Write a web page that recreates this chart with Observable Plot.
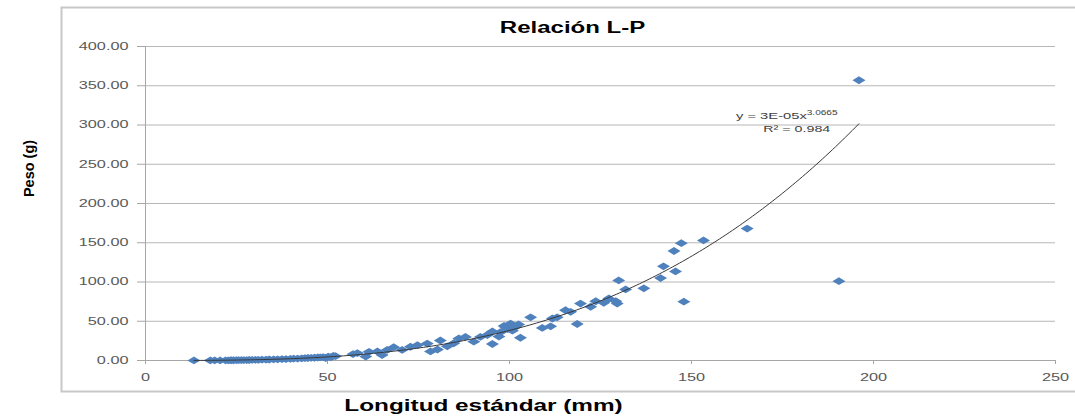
<!DOCTYPE html>
<html>
<head>
<meta charset="utf-8">
<script src="https://cdn.jsdelivr.net/npm/d3@7"></script>
<script src="https://cdn.jsdelivr.net/npm/@observablehq/plot@0.6"></script>
<style>
  body { margin: 0; background: #fff; }
  #chart svg g[aria-label$="tick label"] { fill: #595959; }
  #chart svg g[aria-label$="-axis tick"] { stroke: #a6a6a6; }
</style>
</head>
<body>
<div id="chart"></div>
<script>
// ---- Data ----
const lengths = [
  13.3, 17.8, 19.0, 20.5, 22.0, 22.8, 23.5, 24.2, 25.0, 25.6, 26.3, 27.0, 27.8, 28.5, 29.3,
  30.2, 31.0, 32.0, 33.1, 34.0, 35.2, 36.3, 37.5, 38.6, 39.8, 40.7, 41.8, 42.9, 43.8, 44.6,
  45.5, 46.4, 47.3, 48.0, 48.8, 49.5, 50.2, 50.9, 51.6, 52.2,
  57.0, 58.2, 60.5, 61.4, 63.7, 65.0, 66.4, 68.2, 70.5, 72.8, 74.7, 77.4, 78.3, 80.2, 81.0,
  82.9, 84.7, 86.1, 87.9, 90.2, 92.0, 93.9, 95.3, 95.3, 97.1, 97.5, 98.5, 99.0, 99.5, 100.3,
  100.8, 101.7, 102.5, 103.0, 105.8, 109.0, 111.3, 111.8, 113.1, 115.4, 116.8, 118.6, 119.5,
  122.3, 123.7, 125.9, 127.3, 129.2, 129.6, 130.0, 131.9, 136.9, 141.5, 142.3, 145.6, 145.2,
  147.2, 147.9, 153.3, 165.3, 190.5, 196.0
];
const weights = [
  0.05, 0.1, 0.12, 0.15, 0.2, 0.25, 0.3, 0.35, 0.4, 0.45, 0.5, 0.55, 0.6, 0.65, 0.75,
  0.85, 0.9, 1.0, 1.1, 1.25, 1.4, 1.5, 1.7, 1.8, 2.1, 2.3, 2.5, 2.7, 3.0, 3.2,
  3.4, 3.5, 3.8, 4.0, 4.3, 3.2, 5.0, 4.0, 6.0, 5.5,
  8.0, 9.4, 5.0, 11.0, 11.5, 7.0, 13.5, 17.0, 13.5, 17.5, 19.5, 21.5, 11.5, 14.0, 25.5,
  18.0, 22.0, 28.0, 30.0, 24.0, 30.0, 32.5, 37.0, 21.0, 30.5, 36.0, 44.0, 42.0, 40.0, 47.0,
  38.0, 43.0, 46.0, 29.0, 55.0, 41.5, 43.5, 53.5, 55.0, 64.0, 62.0, 46.5, 72.5,
  68.5, 75.5, 73.5, 79.0, 75.5, 72.5, 102.0, 90.5, 92.0, 105.0, 120.0, 113.5, 139.5,
  149.5, 75.0, 153.0, 168.0, 101.0, 357.0
];
const xTicks = [0, 50, 100, 150, 200, 250];
const yTicks = [0, 50, 100, 150, 200, 250, 300, 350, 400];

// Power trendline (Excel: y = 3E-05 x^3.0665, R² = 0.984)
const fitA = 2.82e-5;
const fitB = 3.0665;
const eqBase = "y = 3E-05x";
const eqExp = "3.0665";
const r2Text = "R² = 0.984";
const eqPos = {x: 177, y1: 312, y2: 295.5};

const titleText = "Relación L-P";
const xLabelText = "Longitud estándar (mm)";
const yLabelText = "Peso (g)";

// ---- Build tables ----
const points = lengths.map((x, i) => ({x, y: weights[i]}));
const xMin = d3.min(lengths), xMax = d3.max(lengths);
const trend = d3.range(0, 201).map(i => {
  const x = xMin + (xMax - xMin) * i / 200;
  return {x, y: fitA * Math.pow(x, fitB)};
});

const flatDiamond = {
  draw(ctx, size) {
    const w = Math.sqrt(size / Math.PI);
    const h = w * 0.6;
    ctx.moveTo(0, -h); ctx.lineTo(w, 0); ctx.lineTo(0, h); ctx.lineTo(-w, 0); ctx.closePath();
  }
};

const plot = Plot.plot({
  width: 1075,
  height: 417,
  marginLeft: 145,
  marginRight: 20,
  marginTop: 46,
  marginBottom: 57,
  style: {fontFamily: "'Liberation Sans', Arial, sans-serif", background: "#fff", overflow: "visible"},
  x: {domain: [0, 250], ticks: xTicks, tickSize: 4, tickPadding: 9, label: null, tickFormat: d3.format("d")},
  y: {domain: [0, 400], ticks: yTicks, tickSize: 8, tickPadding: 9, label: null, tickFormat: d3.format(".2f")},
  marks: [
    Plot.frame({stroke: "#c8c8c8", strokeWidth: 2, insetLeft: -84, insetTop: -39, insetBottom: -31, insetRight: -30}),
    Plot.ruleY(yTicks, {stroke: "#b7b7b7", strokeWidth: 1}),
    Plot.ruleX([0], {stroke: "#a6a6a6", strokeWidth: 1}),
    Plot.ruleY([0], {stroke: "#a6a6a6", strokeWidth: 1}),
    Plot.dot(points, {x: "x", y: "y", r: 6.5, symbol: flatDiamond, fill: "#4f81bd", stroke: "none"}),
    Plot.line(trend, {x: "x", y: "y", stroke: "#383838", strokeWidth: 1}),
    Plot.text([eqBase], {x: () => eqPos.x, y: () => eqPos.y1, text: d => d, fontSize: 9.5, fill: "#404040", dx: -3}),
    Plot.text([r2Text], {x: () => eqPos.x, y: () => eqPos.y2, text: d => d, fontSize: 9.5, fill: "#404040", dx: 7}),
    Plot.text([titleText], {frameAnchor: "top", lineAnchor: "middle", dx: -28, dy: -19, fontSize: 16, fontWeight: "bold", fill: "#000"}),
    Plot.text([xLabelText], {frameAnchor: "bottom", lineAnchor: "middle", dx: -117, dy: 45, fontSize: 16, fontWeight: "bold", fill: "#000"}),
    Plot.text([yLabelText], {frameAnchor: "left", textAnchor: "middle", lineAnchor: "middle", dx: -116, dy: -35, rotate: -90, fontSize: 14.5, fontWeight: "bold", fill: "#000"})
  ]
});

document.getElementById("chart").append(plot);

const allText = Array.from(plot.querySelectorAll("text"));
const byContent = s => allText.filter(t => t.textContent === s);

// superscript exponent on the equation
byContent(eqBase).forEach(t => {
  const ts = document.createElementNS("http://www.w3.org/2000/svg", "tspan");
  ts.setAttribute("font-size", "6.5");
  ts.setAttribute("dy", "-4");
  ts.textContent = eqExp;
  t.appendChild(ts);
});

// the reference picture is horizontally stretched: widen the horizontal text to match
function stretch(els, f) {
  els.forEach(t => {
    const L = t.getComputedTextLength();
    if (L > 0) {
      t.setAttribute("textLength", (L * f).toFixed(2));
      t.setAttribute("lengthAdjust", "spacingAndGlyphs");
    }
  });
}
plot.querySelectorAll('g[aria-label$="tick label"] text').forEach(t => t.setAttribute("font-size", "10.5"));
stretch(Array.from(plot.querySelectorAll('g[aria-label$="tick label"] text')), 1.55);
stretch(allText.filter(t => t.textContent === eqBase + eqExp), 1.55);
stretch(byContent(r2Text), 1.5);
stretch(byContent(titleText), 1.5);
stretch(byContent(xLabelText), 1.52);
</script>
</body>
</html>
